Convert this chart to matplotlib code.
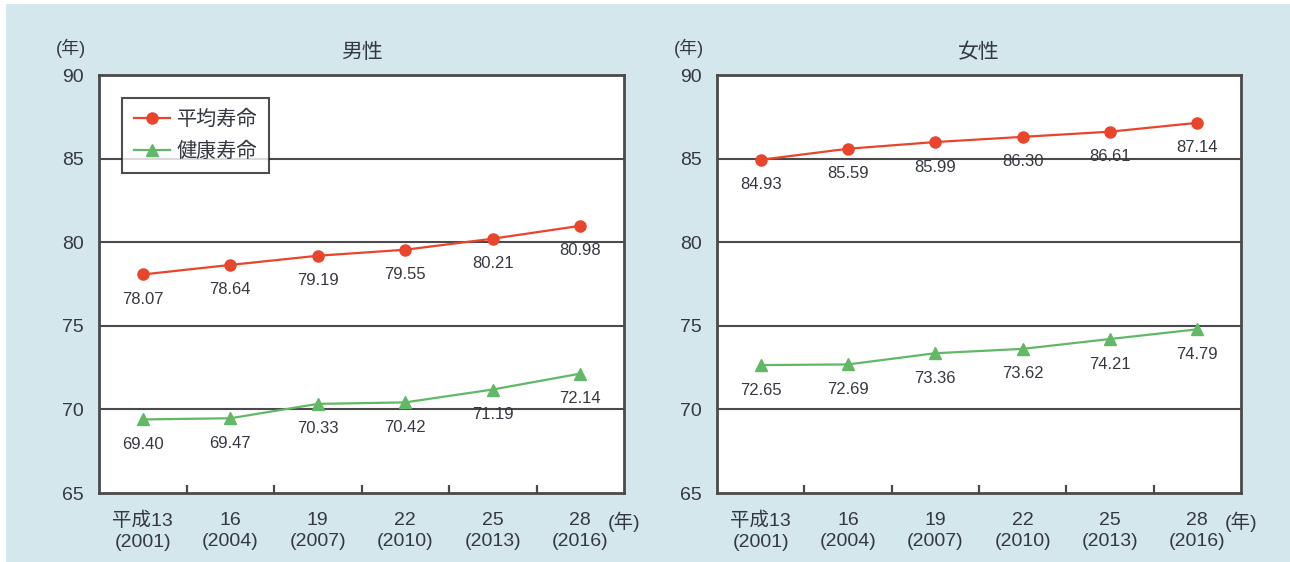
import matplotlib
matplotlib.use("Agg")
import matplotlib.pyplot as plt
from matplotlib.patches import Rectangle

plt.rcParams['font.family'] = ['Liberation Sans', 'Noto Sans CJK JP', 'DejaVu Sans']

years_jp = ["平成13", "16", "19", "22", "25", "28"]
years_ad = ["2001", "2004", "2007", "2010", "2013", "2016"]
male_life = [78.07, 78.64, 79.19, 79.55, 80.21, 80.98]
male_healthy = [69.40, 69.47, 70.33, 70.42, 71.19, 72.14]
female_life = [84.93, 85.59, 85.99, 86.30, 86.61, 87.14]
female_healthy = [72.65, 72.69, 73.36, 73.62, 74.21, 74.79]
panel_titles = ["男性", "女性"]
series_names = ["平均寿命", "健康寿命"]
yticks = [65, 70, 75, 80, 85, 90]

W, H = 1290, 562
fig = plt.figure(figsize=(W / 100, H / 100), dpi=100)
fig.patch.set_facecolor("white")
bg = "#d4e7ed"
fig.patches.append(Rectangle((6 / W, 0), 1 - 6 / W, 1 - 4 / H, transform=fig.transFigure,
                             facecolor=bg, edgecolor="none", zorder=-10))

red = "#e8452c"
green = "#62b866"
txt = "#353840"
dark = "#4a4a4a"

panels = [
    (99, 624, male_life, male_healthy, panel_titles[0], True),
    (717, 1241, female_life, female_healthy, panel_titles[1], False),
]
ytop, ybot = 75, 493

for (x0, x1, life, healthy, title, show_legend) in panels:
    ax = fig.add_axes([x0 / W, 1 - ybot / H, (x1 - x0) / W, (ybot - ytop) / H])
    ax.set_facecolor("white")
    n = len(life)
    xs = list(range(n))
    ax.set_xlim(-0.5, n - 0.5)
    ax.set_ylim(65, 90)
    for v in yticks[1:-1]:
        ax.axhline(v, color=dark, lw=1.5, zorder=1)
    l1, = ax.plot(xs, life, color=red, lw=1.6, marker="o", ms=8, zorder=3, label=series_names[0])
    l2, = ax.plot(xs, healthy, color=green, lw=1.6, marker="^", ms=8, zorder=3, label=series_names[1])
    for series in (life, healthy):
        for x, v in zip(xs, series):
            ax.annotate(f"{v:.2f}", (x, v), xytext=(0, -25), textcoords="offset pixels",
                        ha="center", va="center", fontsize=12, color=txt, zorder=4)
    for s in ax.spines.values():
        s.set_color(dark)
        s.set_linewidth(2.0)
    ax.set_yticks(yticks)
    ax.tick_params(axis="y", length=0, pad=11, labelsize=14, labelcolor=txt)
    ax.set_xticks([i + 0.5 for i in range(n - 1)])
    ax.set_xticklabels([])
    ax.tick_params(axis="x", direction="in", length=6, width=1.6, color=dark)
    for i, (a, b) in enumerate(zip(years_jp, years_ad)):
        ax.annotate(f"{a}\n({b})", (i, 65), xytext=(0, -19), textcoords="offset pixels",
                    ha="center", va="top", fontsize=14, color=txt, linespacing=1.3,
                    annotation_clip=False)
    ax.annotate("(年)", (n - 0.5, 65), xytext=(0, -19), textcoords="offset pixels",
                ha="center", va="top", fontsize=14, color=txt, annotation_clip=False)
    ax.annotate("(年)", (0, 1), xycoords="axes fraction", xytext=(-28, 27),
                textcoords="offset pixels", ha="center", va="center", fontsize=13,
                color=txt, annotation_clip=False)
    ax.annotate(title, (0.5, 1), xycoords="axes fraction", xytext=(0, 23),
                textcoords="offset pixels", ha="center", va="center", fontsize=15,
                color=txt, annotation_clip=False)
    if show_legend:
        leg = ax.legend(handles=[l1, l2], loc="upper left", bbox_to_anchor=(0.044, 0.945),
                        borderaxespad=0, fontsize=14.5, frameon=True, fancybox=False,
                        handlelength=1.8, handletextpad=0.3, labelspacing=0.6,
                        borderpad=0.6)
        leg.get_frame().set_edgecolor("#222222")
        leg.get_frame().set_linewidth(1.5)
        for t in leg.get_texts():
            t.set_color(txt)

fig.savefig("out.png", dpi=100, facecolor=fig.get_facecolor())
